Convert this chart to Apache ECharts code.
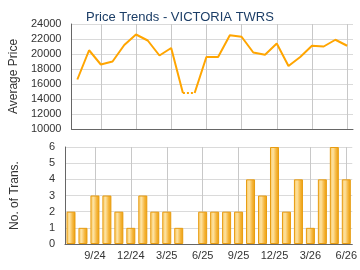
<!DOCTYPE html>
<html>
<head>
<meta charset="utf-8">
<script src="https://cdn.jsdelivr.net/npm/echarts@6/dist/echarts.min.js"></script>
<style>
html, body { margin: 0; padding: 0; background: #fff; }
#chart { width: 360px; height: 270px; }
</style>
</head>
<body>
<div id="chart"></div>
<script>
var months = ['7/24', '8/24', '9/24', '10/24', '11/24', '12/24', '1/25', '2/25', '3/25', '4/25', '5/25', '6/25',
    '7/25', '8/25', '9/25', '10/25', '11/25', '12/25', '1/26', '2/26', '3/26', '4/26', '5/26', '6/26'];
var avgPrice = [16600, 20500, 18600, 19000, 21200, 22600, 21800, 19800, 20800, 14800, 14800, 19600,
    19600, 22500, 22300, 20200, 19900, 21400, 18400, 19600, 21100, 21000, 21900, 21100];
var transCount = [2, 1, 3, 3, 2, 1, 3, 2, 2, 1, 0, 2, 2, 2, 2, 4, 3, 6, 2, 4, 1, 4, 6, 4];
var tickMonths = ['9/24', '12/24', '3/25', '6/25', '9/25', '12/25', '3/26', '6/26'];
var priceTicks = [10000, 24000, 2000];
var countTicks = [0, 6, 1];

var font = 'Liberation Sans, Arial, sans-serif';
var chart = echarts.init(document.getElementById('chart'));

// months without trades keep last price; that segment is dotted
var dotData = [];
var solidParts = [];
var cur = new Array(months.length).fill(null);
for (var i = 0; i < months.length; i++) {
    var noTrade = transCount[i] === 0;
    var nextNoTrade = i + 1 < months.length && transCount[i + 1] === 0;
    dotData.push(noTrade || nextNoTrade ? avgPrice[i] : null);
    cur[i] = avgPrice[i];
    if (nextNoTrade) {
        solidParts.push(cur);
        cur = new Array(months.length).fill(null);
    }
}
solidParts.push(cur);

function isTickMonth(i) { return tickMonths.indexOf(months[i]) >= 0; }

var series = [];
solidParts.forEach(function(d) {
    series.push({
        type: 'line', xAxisIndex: 0, yAxisIndex: 0, data: d, z: 3,
        showSymbol: false, symbol: 'none',
        lineStyle: {color: '#ffa500', width: 2}
    });
});
series.push({
    type: 'line', xAxisIndex: 0, yAxisIndex: 0, data: dotData, z: 3,
    showSymbol: false, symbol: 'none',
    lineStyle: {color: '#ffa500', width: 2, type: [2, 2]}
});
series.push({
    type: 'bar', xAxisIndex: 1, yAxisIndex: 1, z: 3,
    data: transCount.map(function(v) { return v === 0 ? '-' : v; }),
    barWidth: 9,
    itemStyle: {
        borderColor: '#e89c10', borderWidth: 1,
        color: new echarts.graphic.LinearGradient(0, 0, 1, 0, [
            {offset: 0, color: '#f9c862'},
            {offset: 0.35, color: '#fde2a0'},
            {offset: 0.7, color: '#f5b53c'},
            {offset: 1, color: '#eb9f08'}
        ])
    }
});

function yAxisOf(idx, ticks, name) {
    return {
        type: 'value', gridIndex: idx, min: ticks[0], max: ticks[1], interval: ticks[2],
        name: name, nameLocation: 'middle', nameGap: 44,
        nameTextStyle: {color: '#333', fontSize: 12, fontFamily: font},
        axisLine: {show: true, lineStyle: {color: '#666'}},
        axisTick: {show: false},
        axisLabel: {color: '#333', fontSize: 11, fontFamily: font, margin: 10,
            formatter: function(v) { return String(v); }},
        splitLine: {lineStyle: {color: '#dadada'}}
    };
}

// full-height inside ticks act as the vertical grid lines
function gridTickAxis(idx, plotHeight) {
    return {
        type: 'category', gridIndex: idx, data: months, position: 'top',
        axisLine: {show: false},
        axisLabel: {show: false, interval: isTickMonth},
        axisTick: {
            show: true, inside: true, alignWithLabel: true, length: plotHeight,
            interval: isTickMonth,
            lineStyle: {color: '#c8c8c8', width: 1}
        },
        splitLine: {show: false}
    };
}

chart.setOption({
    animation: false,
    title: {
        text: 'Price Trends - VICTORIA TWRS', left: 'center', top: 6,
        textStyle: {color: '#1b3d66', fontSize: 13, fontWeight: 'normal', fontFamily: font}
    },
    grid: [
        {left: 65, right: 7, top: 24, height: 105},
        {left: 65, right: 7, top: 147, height: 97}
    ],
    xAxis: [
        {
            type: 'category', gridIndex: 0, data: months, position: 'bottom',
            axisLine: {lineStyle: {color: '#666'}},
            axisTick: {show: false}, axisLabel: {show: false}, splitLine: {show: false}
        },
        {
            type: 'category', gridIndex: 1, data: months, position: 'bottom',
            axisLine: {lineStyle: {color: '#666'}},
            axisTick: {
                alignWithLabel: true, length: 4, lineStyle: {color: '#666'},
                interval: isTickMonth
            },
            axisLabel: {
                color: '#333', fontSize: 11, fontFamily: font, margin: 6,
                interval: isTickMonth
            },
            splitLine: {show: false}
        },
        gridTickAxis(0, 105),
        gridTickAxis(1, 97)
    ],
    yAxis: [
        yAxisOf(0, priceTicks, 'Average Price'),
        yAxisOf(1, countTicks, 'No. of Trans.')
    ],
    series: series
});
</script>
</body>
</html>
